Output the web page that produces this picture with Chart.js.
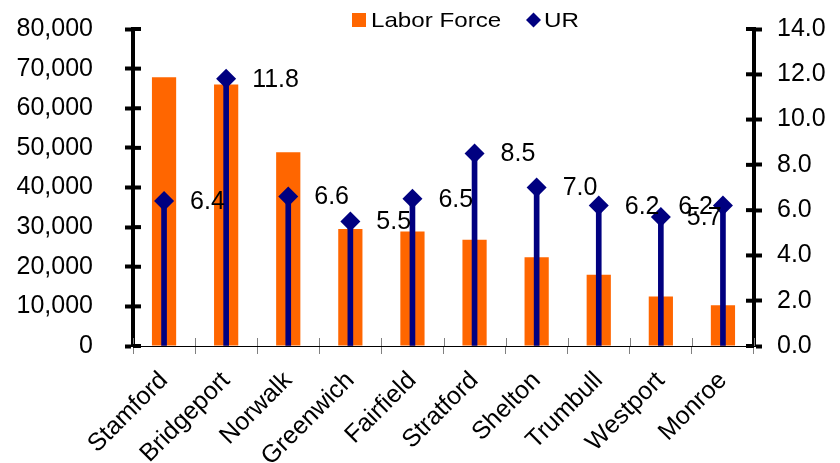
<!DOCTYPE html>
<html>
<head>
<meta charset="utf-8">
<script src="https://cdn.jsdelivr.net/npm/chart.js@4/dist/chart.umd.min.js"></script>
<style>
body{margin:0;background:#fff;}
#wrap{width:840px;height:463px;position:relative;}
</style>
</head>
<body>
<div id="wrap"><canvas id="chart"></canvas></div>
<script>
// 資料
var towns = ['Stamford', 'Bridgeport', 'Norwalk', 'Greenwich', 'Fairfield', 'Stratford', 'Shelton', 'Trumbull', 'Westport', 'Monroe'];
var laborForce = [67800, 66000, 48900, 29500, 28900, 26800, 22400, 18000, 12500, 10300];
var unemploymentRate = [6.4, 11.8, 6.6, 5.5, 6.5, 8.5, 7.0, 6.2, 5.7, 6.2];
var seriesNames = ['Labor Force', 'UR'];
var laborAxis = {max: 80000, step: 10000};
var rateAxis = {max: 14, step: 2};

var FONT = '"Liberation Sans", Arial, sans-serif';
var ORANGE = '#FF6600';
var NAVY = '#000080';

// 軸上往內的刻度 (Excel 的刻度是穿過軸線的)
var crossTicks = {
	id: 'crossTicks',
	afterDatasetsDraw: function(chart){
		var ctx = chart.ctx;
		var area = chart.chartArea;
		ctx.save();
		// x 軸：類別之間的灰色刻度
		var xs = chart.scales.x;
		ctx.strokeStyle = '#808080';
		ctx.lineWidth = 1;
		for(var i = 0; i <= towns.length; i++){
			var px = Math.round(xs.getPixelForValue(i - 0.5)) + 0.5;
			ctx.beginPath();
			ctx.moveTo(px, area.bottom - 8);
			ctx.lineTo(px, area.bottom);
			ctx.stroke();
		}
		// 左右 y 軸
		ctx.strokeStyle = '#000';
		ctx.lineWidth = 4;
		['y', 'y1'].forEach(function(id){
			var s = chart.scales[id];
			var x0 = id === 'y' ? area.left : area.right;
			var dir = id === 'y' ? 1 : -1;
			s.ticks.forEach(function(t){
				var py = s.getPixelForValue(t.value);
				ctx.beginPath();
				ctx.moveTo(x0, py);
				ctx.lineTo(x0 + dir * 8, py);
				ctx.stroke();
			});
		});
		ctx.restore();
	}
};

// UR 數值標籤
var valueLabels = {
	id: 'valueLabels',
	afterDatasetsDraw: function(chart){
		var ctx = chart.ctx;
		var area = chart.chartArea;
		var meta = chart.getDatasetMeta(2);
		ctx.save();
		ctx.font = '25px ' + FONT;
		ctx.fillStyle = '#000';
		ctx.textBaseline = 'middle';
		meta.data.forEach(function(pt, i){
			var txt = unemploymentRate[i].toFixed(1);
			var w = ctx.measureText(txt).width;
			if(pt.x + 26 + w > area.right){
				ctx.textAlign = 'right';
				ctx.fillText(txt, pt.x - 10, pt.y + 1);
			}else{
				ctx.textAlign = 'left';
				ctx.fillText(txt, pt.x + 26, pt.y + 1);
			}
		});
		ctx.restore();
	}
};

// 圖例
var legendBox = {
	id: 'legendBox',
	afterDraw: function(chart){
		var ctx = chart.ctx;
		ctx.save();
		ctx.fillStyle = ORANGE;
		ctx.fillRect(352, 13, 14, 14);
		ctx.fillStyle = NAVY;
		ctx.beginPath();
		ctx.moveTo(533.5, 12.5);
		ctx.lineTo(541, 20);
		ctx.lineTo(533.5, 27.5);
		ctx.lineTo(526, 20);
		ctx.closePath();
		ctx.fill();
		ctx.fillStyle = '#000';
		ctx.font = '21px ' + FONT;
		ctx.textBaseline = 'middle';
		ctx.textAlign = 'left';
		[[371, seriesNames[0]], [544, seriesNames[1]]].forEach(function(item){
			ctx.save();
			ctx.translate(item[0], 21);
			ctx.scale(1.15, 1);
			ctx.fillText(item[1], 0, 0);
			ctx.restore();
		});
		ctx.restore();
	}
};

var tickFont = {family: FONT, size: 25};

// y 軸寬度固定，不讓標籤的 padding 把圖往下推
function fixYAxis(width){
	return function(scale){
		scale.width = width;
		scale.paddingTop = 0;
		scale.paddingBottom = 0;
	};
}

var chart = new Chart(document.getElementById('chart'), {
	type: 'bar',
	data: {
		labels: towns,
		datasets: [{
			label: seriesNames[0],
			data: laborForce,
			backgroundColor: ORANGE,
			grouped: false,
			barPercentage: 0.39,
			categoryPercentage: 1,
			yAxisID: 'y',
			order: 3
		}, {
			label: seriesNames[1] + ' stem',
			data: unemploymentRate,
			backgroundColor: NAVY,
			grouped: false,
			barThickness: 5,
			yAxisID: 'y1',
			order: 2
		}, {
			type: 'line',
			label: seriesNames[1],
			data: unemploymentRate,
			showLine: false,
			pointStyle: 'rectRot',
			pointRadius: 10,
			pointHoverRadius: 10,
			pointBorderWidth: 0,
			backgroundColor: NAVY,
			borderColor: NAVY,
			yAxisID: 'y1',
			order: 1
		}]
	},
	options: {
		responsive: true,
		maintainAspectRatio: false,
		animation: false,
		layout: {padding: {top: 29, left: 0, right: 0, bottom: 0}},
		plugins: {
			legend: {display: false},
			tooltip: {enabled: false}
		},
		scales: {
			x: {
				offset: true,
				grid: {display: true, drawOnChartArea: false, color: '#808080', tickLength: 8, offset: true},
				border: {color: '#000', width: 1},
				ticks: {font: tickFont, color: '#000', minRotation: 45, maxRotation: 45, padding: 12, autoSkip: false},
				afterFit: function(scale){ scale.height = 117; }
			},
			y: {
				position: 'left',
				min: 0,
				max: laborAxis.max,
				grid: {drawOnChartArea: false, tickLength: 8, tickWidth: 4, tickColor: '#000'},
				border: {color: '#000', width: 4},
				ticks: {
					stepSize: laborAxis.step,
					font: tickFont,
					color: '#000',
					padding: 32,
					callback: function(v){ return v.toLocaleString('en-US'); }
				},
				afterFit: fixYAxis(133)
			},
			y1: {
				position: 'right',
				min: 0,
				max: rateAxis.max,
				grid: {drawOnChartArea: false, tickLength: 8, tickWidth: 4, tickColor: '#000'},
				border: {color: '#000', width: 4},
				ticks: {
					stepSize: rateAxis.step,
					font: tickFont,
					color: '#000',
					padding: 15,
					callback: function(v){ return v.toFixed(1); }
				},
				afterFit: fixYAxis(86)
			}
		}
	},
	plugins: [crossTicks, valueLabels, legendBox]
});
</script>
</body>
</html>
